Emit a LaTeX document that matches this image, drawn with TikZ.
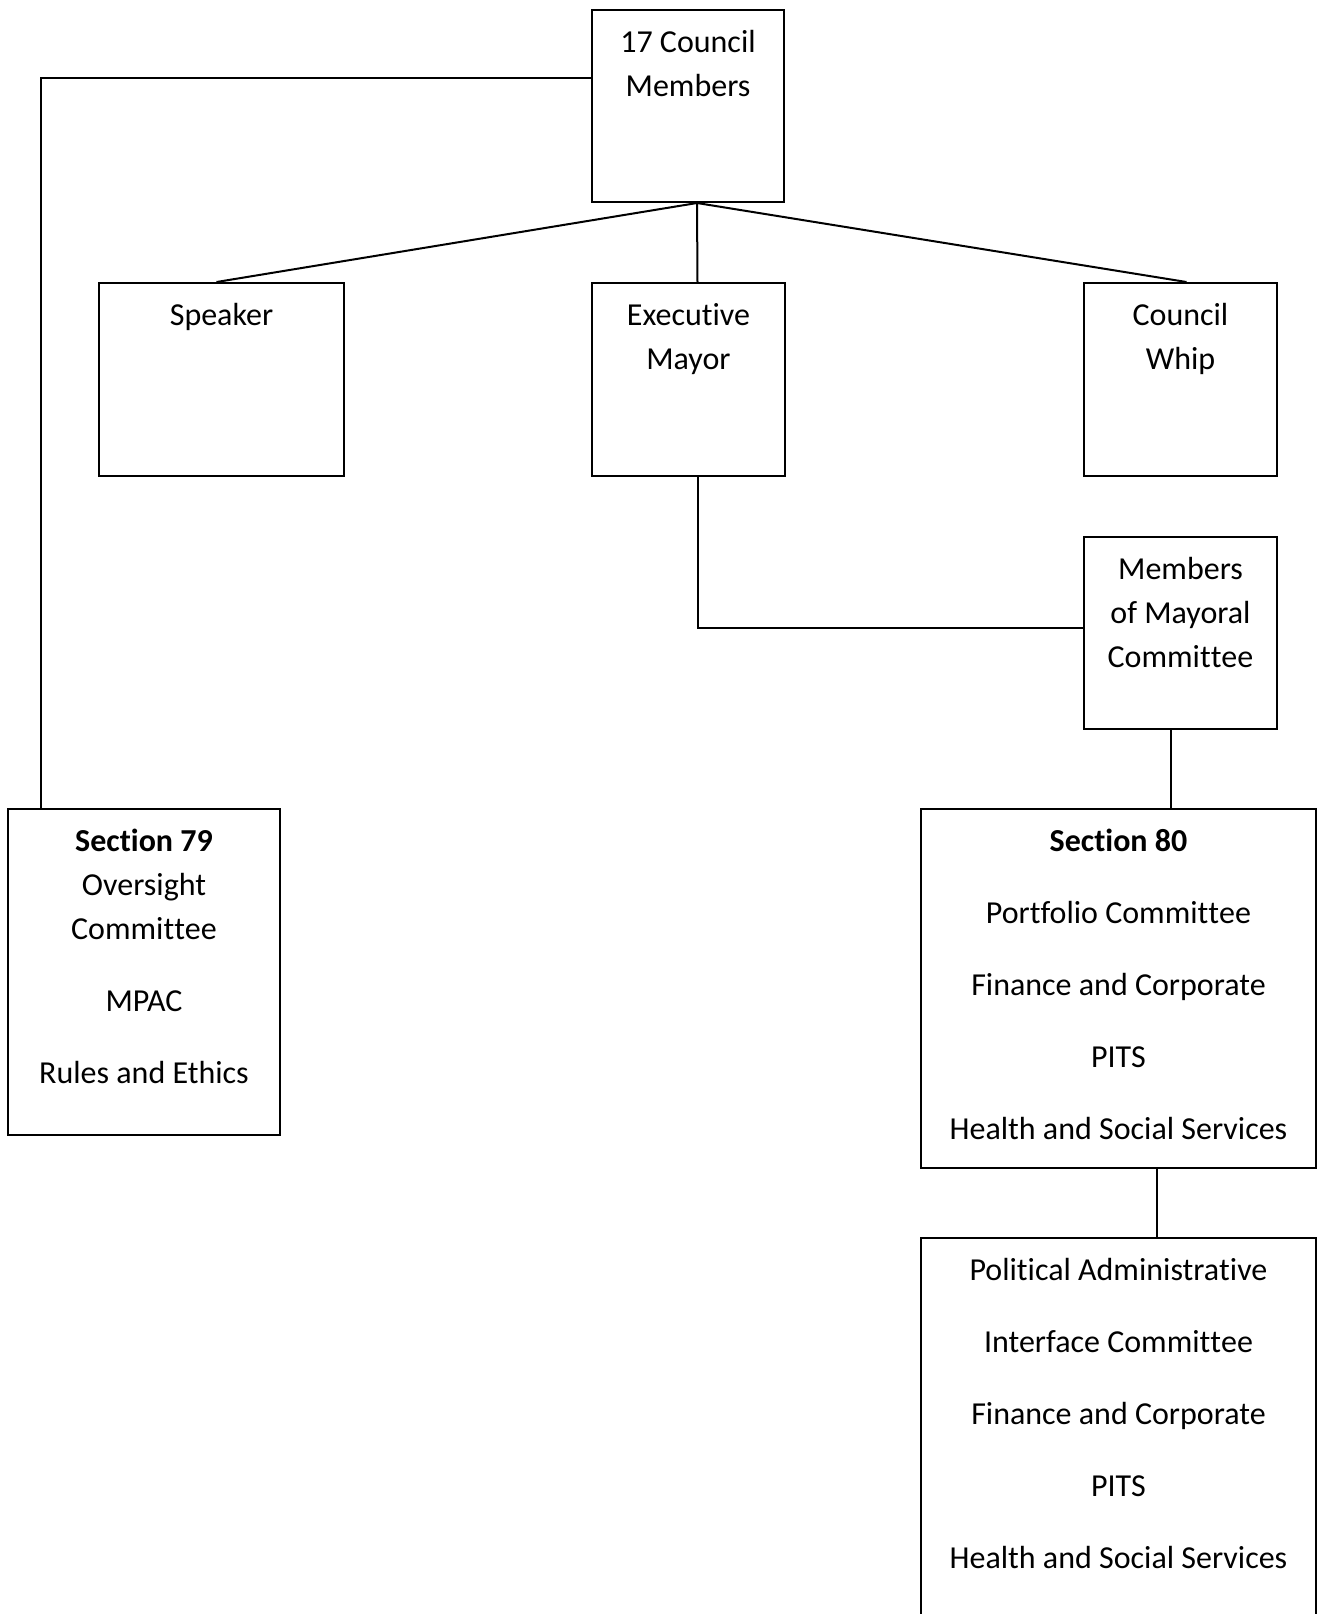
\documentclass[tikz,border=0pt]{standalone}
\usepackage{fontspec}
\setmainfont{Carlito}[Ligatures={NoCommon,NoRequired,NoContextual},Contextuals=NoAlternate]
\usetikzlibrary{calc,positioning}

% box text: width, height, lines (set from the top of the box)
\newcommand{\boxtext}[3]{\parbox[t][#2][t]{#1}{\centering\rule{0pt}{21pt}#3}}

\tikzset{
  orgbox/.style={draw, line width=1pt, inner sep=0pt, anchor=north west,
    font=\fontsize{16}{22}\selectfont},
  link/.style={line width=1pt}
}

\begin{document}
\begin{tikzpicture}[x=0.5pt,y=-0.5pt]
  \path[use as bounding box, fill=white] (0,0) rectangle (1318,1614);

  % Boxes
  \node[orgbox] (council) at (591,9)    {\boxtext{96pt}{96pt}{17 Council\\Members}};
  \node[orgbox] (speaker) at (98,282)   {\boxtext{122.5pt}{96.5pt}{Speaker}};
  \node[orgbox] (mayor)   at (591,282)  {\boxtext{96.5pt}{96.5pt}{Execu\kern0ptt\kern0pti\kern0ptve\\Mayor}};
  \node[orgbox] (whip)    at (1083,282) {\boxtext{96.5pt}{96.5pt}{Council\\Whip}};
  \node[orgbox] (mmc)     at (1083,536) {\boxtext{96.5pt}{96pt}{Members\\of Mayoral\\Commit\kern0ptt\kern0ptee}};
  \node[orgbox] (sec79)   at (7,808)    {\boxtext{136pt}{163pt}{\textbf{Section 79}\\Oversight\\Commit\kern0ptt\kern0ptee\\[14pt]MPAC\\[14pt]Rules and Ethics}};
  \node[orgbox] (sec80)   at (920,808)  {\boxtext{197.5pt}{179.5pt}{\textbf{Section 80}\\[14pt]Portfolio Commit\kern0ptt\kern0ptee\\[14pt]Finance and Corporate\\[14pt]PITS\\[14pt]Health and Social Services}};
  \node[orgbox] (paic)    at (920,1237) {\boxtext{197.5pt}{196pt}{Poli\kern0ptt\kern0ptical Administra\kern0ptt\kern0ptive\\[14pt]Interface Commit\kern0ptt\kern0ptee\\[14pt]Finance and Corporate\\[14pt]PITS\\[14pt]Health and Social Services}};

  % Connectors
  \coordinate (hub) at ($(council.south)+(9,0)$);
  \draw[link] (hub) -- ($(speaker.north)+(-5,0)$);
  \draw[link] (hub) -- ($(mayor.north)+(9,0)$);
  \draw[link] (hub) -- ($(whip.north)+(6,0)$);
  \draw[link] ($(council.north west)+(0,69)$) -| ($(sec79.north west)+(34,0)$);
  \draw[link] ($(mayor.south)+(9,0)$) |- ($(mmc.west)+(0,-5)$);
  \draw[link] ($(mmc.south)+(-10,0)$) -- ($(sec80.north)+(52,0)$);
  \draw[link] ($(sec80.south)+(38,0)$) -- ($(paic.north)+(38,0)$);
\end{tikzpicture}
\end{document}
